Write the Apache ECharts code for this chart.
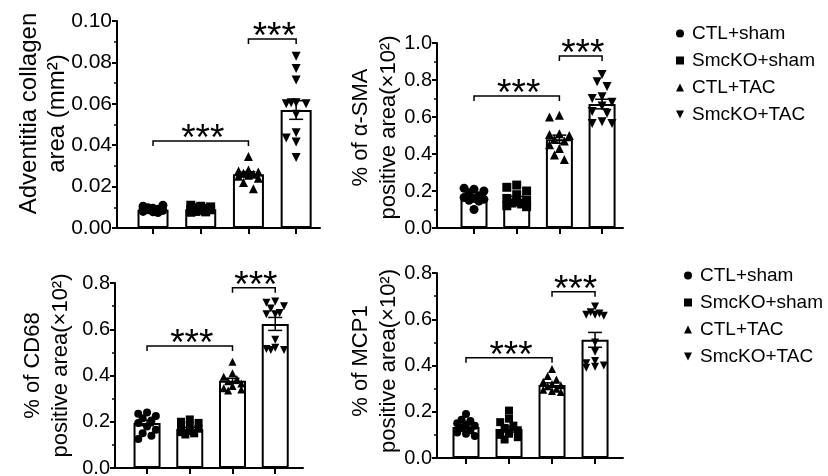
<!DOCTYPE html>
<html>
<head>
<meta charset="utf-8">
<script src="https://cdn.jsdelivr.net/npm/echarts@6/dist/echarts.min.js"></script>
<style>html,body{margin:0;background:#fff}#chart{width:828px;height:476px}</style>
</head>
<body>
<div id="chart"></div>
<script>
var groups = ['CTL+sham', 'SmcKO+sham', 'CTL+TAC', 'SmcKO+TAC'];

// adventitia collagen area (mm2)
var collagenPts = [
	[0.0095, 0.0105, 0.011, 0.0098, 0.009, 0.0085, 0.008, 0.0088, 0.0092, 0.0078, 0.0075],
	[0.0105, 0.011, 0.0102, 0.0098, 0.0095, 0.009, 0.0085, 0.0088, 0.008, 0.0078, 0.0076],
	[0.0345, 0.028, 0.0275, 0.027, 0.0265, 0.026, 0.0255, 0.025, 0.024, 0.022, 0.019],
	[0.083, 0.077, 0.0715, 0.0605, 0.060, 0.060, 0.0605, 0.055, 0.046, 0.0435, 0.0415, 0.034]
];
var collagenMean = [0.0088, 0.009, 0.026, 0.057];
var collagenSem = [0.0003, 0.0003, 0.0012, 0.0045];
var collagenBrackets = [[1, 3, 0.042], [3, 4, 0.0913]];

// alpha-SMA
var smaPts = [
	[0.21, 0.215, 0.2, 0.19, 0.175, 0.165, 0.16, 0.155, 0.15, 0.145, 0.10],
	[0.232, 0.22, 0.2, 0.18, 0.16, 0.15, 0.14, 0.135, 0.13, 0.12, 0.115],
	[0.61, 0.60, 0.51, 0.505, 0.50, 0.48, 0.47, 0.45, 0.43, 0.395, 0.37],
	[0.83, 0.79, 0.765, 0.71, 0.70, 0.68, 0.66, 0.63, 0.62, 0.575, 0.565, 0.565]
];
var smaMean = [0.162, 0.158, 0.48, 0.67];
var smaSem = [0.012, 0.013, 0.022, 0.026];
var smaBrackets = [[1, 3, 0.713], [3, 4, 0.93]];

// CD68
var cd68Pts = [
	[0.24, 0.235, 0.225, 0.215, 0.205, 0.195, 0.18, 0.165, 0.15, 0.14, 0.125],
	[0.21, 0.2, 0.195, 0.185, 0.175, 0.17, 0.16, 0.155, 0.15, 0.145],
	[0.46, 0.41, 0.395, 0.385, 0.375, 0.365, 0.355, 0.345, 0.34, 0.335],
	[0.72, 0.715, 0.70, 0.69, 0.67, 0.665, 0.665, 0.555, 0.52, 0.515, 0.51, 0.51]
];
var cd68Mean = [0.195, 0.169, 0.377, 0.623];
var cd68Sem = [0.012, 0.007, 0.011, 0.028];
var cd68Brackets = [[1, 3, 0.528], [3, 4, 0.779]];

// MCP1
var mcp1Pts = [
	[0.19, 0.165, 0.16, 0.15, 0.145, 0.14, 0.13, 0.12, 0.11, 0.105, 0.095],
	[0.205, 0.17, 0.155, 0.14, 0.13, 0.12, 0.105, 0.1, 0.09, 0.08],
	[0.385, 0.355, 0.34, 0.33, 0.32, 0.315, 0.31, 0.30, 0.295, 0.29, 0.285],
	[0.655, 0.63, 0.625, 0.62, 0.62, 0.615, 0.50, 0.46, 0.42, 0.41, 0.40, 0.395, 0.39]
];
var mcp1Mean = [0.134, 0.125, 0.316, 0.511];
var mcp1Sem = [0.009, 0.013, 0.009, 0.032];
var mcp1Brackets = [[1, 3, 0.433], [3, 4, 0.719]];

var font = 'Liberation Sans';
var symbols = ['circle', 'rect', 'triangle', 'path://M0,0L2,0L1,2Z'];

// titleLift: left padding of the rotated axis name, nudges it up a little
var panels = [
	{pts: collagenPts, mean: collagenMean, sem: collagenSem, brackets: collagenBrackets,
		title: 'Adventitia collagen\narea (mm²)', max: 0.1, interval: 0.02, digits: 2,
		left: 117, top: 21, width: 203, height: 207, xMin: 0.245, xMax: 4.5,
		barWidth: 31, symbolSize: 9, labelSize: 21, titleSize: 24, nameGap: 46, titleLift: 22},
	{pts: smaPts, mean: smaMean, sem: smaSem, brackets: smaBrackets,
		title: '% of α-SMA\npositive area(×10²)', max: 1.0, interval: 0.2, digits: 1,
		left: 437, top: 43, width: 186, height: 185, xMin: 0.133, xMax: 4.49,
		barWidth: 27, symbolSize: 9, labelSize: 20, titleSize: 22, nameGap: 34, titleLift: 16},
	{pts: cd68Pts, mean: cd68Mean, sem: cd68Sem, brackets: cd68Brackets,
		title: '% of CD68\npositive area(×10²)', max: 0.8, interval: 0.2, digits: 1,
		left: 115, top: 283, width: 188, height: 185, xMin: 0.25, xMax: 4.65,
		barWidth: 27, symbolSize: 8, labelSize: 20, titleSize: 22, nameGap: 40, titleLift: 20},
	{pts: mcp1Pts, mean: mcp1Mean, sem: mcp1Sem, brackets: mcp1Brackets,
		title: '% of MCP1\npositive area(×10²)', max: 0.8, interval: 0.2, digits: 1,
		left: 437, top: 273, width: 186, height: 185, xMin: 0.326, xMax: 4.65,
		barWidth: 27, symbolSize: 8, labelSize: 20, titleSize: 22, nameGap: 34, titleLift: 9}
];

// spread points sideways like a scatter dot plot (pixel space, then back to axis units)
function swarm(values, p) {
	var pyu = p.height / p.max;
	var pxu = p.width / (p.xMax - p.xMin);
	var d = p.symbolSize * 0.9;
	var step = p.symbolSize * 0.55;
	var half = p.barWidth / 2 - 2;
	var placed = [];
	return values.map(function (v) {
		var y = v * pyu;
		var best = 0, bestDist = -1;
		for (var k = 0; k < 12; k++) {
			var dx = (k % 2 ? -1 : 1) * Math.ceil(k / 2) * step;
			if (Math.abs(dx) > half) continue;
			var minD = Infinity;
			placed.forEach(function (q) {
				var dd = Math.sqrt((dx - q[0]) * (dx - q[0]) + (y - q[1]) * (y - q[1]));
				if (dd < minD) minD = dd;
			});
			if (minD >= d) { best = dx; bestDist = minD; break; }
			if (minD > bestDist) { bestDist = minD; best = dx; }
		}
		placed.push([best, y]);
		return best / pxu;
	});
}

function renderErr(params, api) {
	var x = api.value(0), m = api.value(1), s = api.value(2);
	var top = api.coord([x, m + s]);
	var bot = api.coord([x, m - s]);
	var cap = 7;
	var st = {stroke: '#000', lineWidth: 1.5};
	return {type: 'group', children: [
		{type: 'line', shape: {x1: top[0], y1: top[1], x2: bot[0], y2: bot[1]}, style: st},
		{type: 'line', shape: {x1: top[0] - cap, y1: top[1], x2: top[0] + cap, y2: top[1]}, style: st},
		{type: 'line', shape: {x1: bot[0] - cap, y1: bot[1], x2: bot[0] + cap, y2: bot[1]}, style: st}
	]};
}

function renderBracket(params, api) {
	var a = api.coord([api.value(0), api.value(2)]);
	var b = api.coord([api.value(1), api.value(2)]);
	var d = 5;
	return {type: 'group', children: [
		{type: 'polyline', shape: {points: [[a[0], a[1] + d], [a[0], a[1]], [b[0], b[1]], [b[0], b[1] + d]]},
			style: {stroke: '#000', lineWidth: 1.5, fill: null}},
		{type: 'text', x: (a[0] + b[0]) / 2 + 2, y: a[1] - 1,
			style: {text: '***', font: '37px ' + font, fill: '#000', align: 'center', verticalAlign: 'middle'}}
	]};
}

var grid = [], xAxis = [], yAxis = [], series = [];
panels.forEach(function (p, i) {
	grid.push({left: p.left, top: p.top, width: p.width, height: p.height,
		containLabel: false, outerBoundsMode: 'none'});
	xAxis.push({
		type: 'value', gridIndex: i, min: p.xMin, max: p.xMax,
		axisLine: {onZero: false, lineStyle: {color: '#000', width: 2}},
		axisTick: {show: true, customValues: [1, 2, 3, 4], length: 6, lineStyle: {color: '#000', width: 2}},
		axisLabel: {show: false},
		splitLine: {show: false}
	});
	yAxis.push({
		type: 'value', gridIndex: i, min: 0, max: p.max, interval: p.interval,
		name: p.title, nameLocation: 'middle', nameRotate: 90, nameGap: p.nameGap,
		nameMoveOverlap: false,
		nameTextStyle: {fontSize: p.titleSize, lineHeight: 28, color: '#000', fontFamily: font,
			padding: [0, 0, 0, p.titleLift]},
		axisLine: {show: true, onZero: false, lineStyle: {color: '#000', width: 2}},
		axisTick: {show: true, length: 5, lineStyle: {color: '#000', width: 2}},
		minorTick: {show: true, splitNumber: 2, length: 3, lineStyle: {color: '#000', width: 1.5}},
		axisLabel: {fontSize: p.labelSize, color: '#000', fontFamily: font, margin: 5,
			formatter: function (v) { return v.toFixed(p.digits); }},
		splitLine: {show: false}
	});
	series.push({
		type: 'bar', xAxisIndex: i, yAxisIndex: i, barWidth: p.barWidth, silent: true, z: 1,
		itemStyle: {color: '#fff', borderColor: '#000', borderWidth: 2},
		data: p.mean.map(function (m, j) { return [j + 1, m]; })
	});
	p.pts.forEach(function (vals, j) {
		var off = swarm(vals, p);
		series.push({
			type: 'scatter', name: groups[j], xAxisIndex: i, yAxisIndex: i, z: 3,
			symbol: symbols[j], symbolSize: p.symbolSize,
			itemStyle: {color: '#000', opacity: 1},
			data: vals.map(function (v, k) { return [j + 1 + off[k], v]; })
		});
	});
	series.push({
		type: 'custom', xAxisIndex: i, yAxisIndex: i, z: 4, silent: true,
		renderItem: renderErr, encode: {x: 0, y: 1},
		data: p.mean.map(function (m, j) { return [j + 1, m, p.sem[j]]; })
	});
	series.push({
		type: 'custom', xAxisIndex: i, yAxisIndex: i, z: 5, silent: true, clip: false,
		renderItem: renderBracket, encode: {x: [0, 1], y: 2},
		data: p.brackets
	});
});

var legendBase = {
	data: groups, orient: 'vertical', itemWidth: 8, itemHeight: 8, itemGap: 8,
	selectedMode: false,
	textStyle: {fontSize: 19, lineHeight: 19, color: '#000', fontFamily: font, padding: [0, 0, 0, 3]}
};

var chart = echarts.init(document.getElementById('chart'), null, {renderer: 'canvas'});
chart.setOption({
	backgroundColor: '#fff',
	animation: false,
	textStyle: {fontFamily: font},
	grid: grid,
	xAxis: xAxis,
	yAxis: yAxis,
	legend: [
		Object.assign({left: 671, top: 19}, legendBase),
		Object.assign({left: 679, top: 261}, legendBase)
	],
	series: series
});
</script>
</body>
</html>
